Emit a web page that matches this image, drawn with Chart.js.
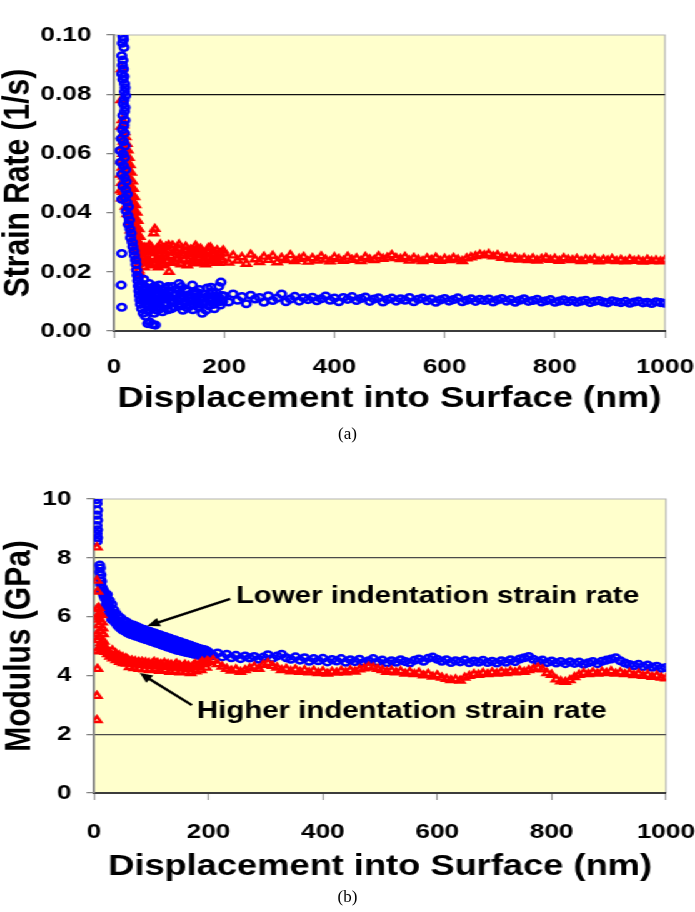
<!DOCTYPE html>
<html>
<head>
<meta charset="utf-8">
<script src="https://cdn.jsdelivr.net/npm/chart.js@4.4.1/dist/chart.umd.min.js"></script>
<style>
  html, body { margin: 0; padding: 0; background: #fff; }
  body { width: 695px; height: 912px; position: relative; overflow: hidden; }
  /* the source figure is a horizontally stretched Excel plot, so stretch the canvases the same way */
  #stretch { position: absolute; left: 0; top: 0; width: 556px; transform: scaleX(1.25); transform-origin: 0 0; }
  #stretch canvas { display: block; }
  .caption { position: absolute; left: 0; width: 695px; text-align: center; line-height: 20px;
             font-family: "Liberation Serif", "Times New Roman", serif; font-size: 17px; color: #000; }
</style>
</head>
<body>
<div id="stretch">
  <canvas id="strainChart" width="556" height="460"></canvas>
  <canvas id="modulusChart" width="556" height="452"></canvas>
</div>
<div class="caption" style="top:424px">(a)</div>
<div class="caption" style="top:887px">(b)</div>

<script>
// axis ticks
const depthTicks = [0, 200, 400, 600, 800, 1000];
const strainTicks = [0, 0.02, 0.04, 0.06, 0.08, 0.10];
const modulusTicks = [0, 2, 4, 6, 8, 10];
const strainGridAt = [0.08];
const modulusGridAt = [2, 8];

// displacement (nm) where the steady part of every curve is sampled
const depthGrid = [
  200, 208, 216, 224, 232, 240, 248, 256, 264, 272,
  280, 288, 296, 304, 312, 320, 328, 336, 344, 352,
  360, 368, 376, 384, 392, 400, 408, 416, 424, 432,
  440, 448, 456, 464, 472, 480, 488, 496, 504, 512,
  520, 528, 536, 544, 552, 560, 568, 576, 584, 592,
  600, 608, 616, 624, 632, 640, 648, 656, 664, 672,
  680, 688, 696, 704, 712, 720, 728, 736, 744, 752,
  760, 768, 776, 784, 792, 800, 808, 816, 824, 832,
  840, 848, 856, 864, 872, 880, 888, 896, 904, 912,
  920, 928, 936, 944, 952, 960, 968, 976, 984, 992, 1000
];

// (a) strain rate, 1/s -- lower rate test (blue circles)
const strainLowEarly = [
  [16, .0995], [17, .0985], [15, .0972], [18, .0958], [14, .0930], [16, .0915], [15, .0898], [17, .0885],
  [14, .0868], [18, .0860], [16, .0850], [19, .0835], [20, .0822], [19, .0808], [21, .0795], [18, .0780],
  [17, .0768], [20, .0755], [19, .0742], [16, .0728], [20, .0712], [18, .0695], [15, .0680], [19, .0668],
  [13, .0650], [17, .0640], [20, .0625], [11, .0610], [16, .0598], [19, .0585], [12, .0570], [17, .0558],
  [21, .0545], [14, .0530], [19, .0518], [22, .0505], [16, .0490], [21, .0478], [24, .0462], [14, .0445],
  [20, .0450], [23, .0435], [26, .0420], [22, .0405], [25, .0390], [28, .0375], [26, .0360], [29, .0345],
  [31, .0330], [30, .0315], [33, .0300], [34, .0285], [36, .0270], [37, .0255], [39, .0240], [40, .0225],
  [14, .0262], [13, .0155], [14, .0080],
  [41, .0205], [42, .0188], [43, .0170], [44, .0152], [45, .0135], [46, .0120], [47, .0105], [48, .0090],
  [49, .0160], [50, .0075], [51, .0140], [52, .0118], [53, .0060], [54, .0175], [55, .0098], [56, .0128],
  [57, .0050], [58, .0110], [59, .0145], [60, .0085], [61, .0025], [62, .0122], [63, .0068], [64, .0160],
  [65, .0030], [66, .0102], [67, .0135], [68, .0078], [69, .0115], [70, .0022], [71, .0148], [72, .0092],
  [73, .0060], [74, .0125], [75, .0020], [76, .0108], [77, .0140], [78, .0070], [79, .0118], [80, .0095],
  [82, .0155], [84, .0082], [86, .0130], [88, .0065], [90, .0112], [92, .0145], [94, .0088], [96, .0120],
  [98, .0072], [100, .0135], [103, .0098], [106, .0150], [109, .0080], [112, .0125], [115, .0105], [118, .0160],
  [121, .0085], [124, .0118], [127, .0095], [130, .0140], [133, .0078], [136, .0122], [139, .0102], [142, .0155],
  [145, .0088], [148, .0115], [151, .0130], [154, .0092], [157, .0108], [160, .0060], [163, .0125], [166, .0098],
  [169, .0145], [172, .0085], [175, .0112], [178, .0132], [181, .0090], [184, .0118], [187, .0104], [190, .0150],
  [193, .0088], [196, .0120],
  [44, .0180], [47, .0155], [50, .0128], [53, .0100], [56, .0150], [59, .0118], [62, .0090], [65, .0140],
  [68, .0108], [71, .0082], [74, .0152], [77, .0100], [80, .0128], [83, .0075], [86, .0105], [89, .0138],
  [92, .0095], [95, .0110], [98, .0150], [101, .0115], [104, .0075], [107, .0128], [110, .0100], [113, .0140],
  [116, .0090], [119, .0110], [122, .0150], [125, .0070], [128, .0112], [131, .0100], [134, .0135], [137, .0090],
  [140, .0112], [143, .0072], [146, .0130], [149, .0100], [152, .0082], [155, .0140], [158, .0110], [161, .0095],
  [164, .0112], [167, .0070], [170, .0118], [173, .0102], [176, .0148], [179, .0110], [182, .0075], [185, .0128],
  [188, .0097], [191, .0112], [194, .0165], [197, .0100]
];
const strainLowSteady = [
  .0118, .0098, .0125, .0104, .0116, .0092, .0121, .0108, .0113, .0097,
  .0119, .0103, .0111, .0125, .0099, .0108, .0117, .0101, .0112, .0106,
  .0114, .0102, .0109, .0118, .0104, .0111, .0099, .0113, .0107, .0116,
  .0103, .0110, .0115, .0100, .0108, .0112, .0098, .0106, .0111, .0101,
  .0109, .0104, .0113, .0099, .0107, .0111, .0102, .0108, .0097, .0105,
  .0110, .0101, .0106, .0112, .0099, .0104, .0109, .0100, .0107, .0103,
  .0108, .0098, .0105, .0110, .0101, .0106, .0097, .0104, .0109, .0100,
  .0103, .0107, .0098, .0102, .0106, .0097, .0101, .0105, .0099, .0103,
  .0097, .0101, .0104, .0096, .0100, .0103, .0098, .0095, .0102, .0099,
  .0096, .0100, .0094, .0098, .0101, .0095, .0097, .0093, .0099, .0096, .0094
];

// (a) strain rate, 1/s -- higher rate test (red triangles)
const strainHighEarly = [
  [14, .0885], [13, .0780], [15, .0712], [17, .0695], [13, .0690], [19, .0672], [15, .0660], [21, .0655],
  [17, .0640], [23, .0632], [14, .0620], [19, .0615], [25, .0610], [16, .0598], [22, .0592], [27, .0585],
  [13, .0575], [18, .0570], [24, .0566], [29, .0560], [15, .0552], [21, .0548], [27, .0540], [31, .0535],
  [12, .0528], [17, .0522], [23, .0518], [29, .0512], [33, .0505], [14, .0500], [20, .0495], [26, .0490],
  [31, .0485], [35, .0480], [12, .0475], [16, .0470], [22, .0468], [28, .0462], [34, .0458], [37, .0452],
  [14, .0448], [19, .0445], [25, .0440], [31, .0435], [36, .0430], [39, .0425], [21, .0420], [27, .0415],
  [33, .0410], [38, .0405], [41, .0400], [24, .0395], [30, .0390], [36, .0385], [40, .0378], [43, .0372],
  [27, .0368], [33, .0362], [39, .0356], [42, .0350], [45, .0344], [30, .0340], [36, .0335], [41, .0330],
  [44, .0324], [47, .0318], [34, .0312], [39, .0306], [43, .0300], [46, .0294], [49, .0288], [38, .0282],
  [42, .0276], [45, .0270], [48, .0264], [51, .0258], [41, .0250], [44, .0244], [47, .0238], [50, .0232],
  [45, .0205], [48, .0190], [42, .0218],
  [52, .0268], [54, .0245], [56, .0282], [58, .0228], [60, .0265], [62, .0240], [64, .0290],
  [66, .0222], [68, .0270], [70, .0250], [72, .0330], [74, .0345], [76, .0238], [78, .0278], [80, .0215],
  [82, .0262], [84, .0292], [86, .0240], [88, .0275], [90, .0225], [92, .0258], [94, .0285], [96, .0235],
  [98, .0268], [100, .0200], [103, .0252], [106, .0288], [109, .0232], [112, .0270], [115, .0245], [118, .0292],
  [121, .0228], [124, .0262], [127, .0240], [130, .0285], [133, .0222], [136, .0258], [139, .0275], [142, .0235],
  [145, .0268], [148, .0288], [151, .0230], [154, .0255], [157, .0278], [160, .0238], [163, .0262], [166, .0225],
  [169, .0270], [172, .0248], [175, .0282], [178, .0235], [181, .0258], [184, .0242], [187, .0272], [190, .0230],
  [193, .0262], [196, .0240],
  [51, .0250], [55, .0215], [59, .0275], [63, .0232], [67, .0285], [71, .0228], [75, .0268], [79, .0242],
  [83, .0280], [87, .0222], [91, .0270], [95, .0248], [99, .0290], [104, .0230], [108, .0265], [113, .0242],
  [117, .0278], [122, .0225], [126, .0255], [131, .0270], [135, .0238], [140, .0262], [144, .0228], [149, .0275],
  [153, .0245], [158, .0265], [162, .0232], [167, .0258], [171, .0280], [176, .0240], [180, .0268], [185, .0230],
  [189, .0262], [194, .0248], [198, .0272]
];
const strainHighSteady = [
  .0262, .0231, .0255, .0238, .0249, .0227, .0258, .0242, .0233, .0251,
  .0240, .0254, .0232, .0247, .0239, .0256, .0236, .0244, .0250, .0234,
  .0246, .0238, .0252, .0241, .0235, .0249, .0243, .0237, .0251, .0240,
  .0245, .0236, .0250, .0242, .0239, .0253, .0244, .0248, .0256, .0246,
  .0243, .0250, .0238, .0247, .0241, .0236, .0245, .0240, .0248, .0237,
  .0244, .0239, .0247, .0241, .0236, .0245, .0249, .0253, .0258, .0255,
  .0260, .0252, .0256, .0247, .0250, .0243, .0248, .0241, .0246, .0239,
  .0245, .0238, .0243, .0247, .0240, .0244, .0237, .0246, .0241, .0239,
  .0243, .0236, .0242, .0239, .0244, .0235, .0241, .0238, .0243, .0236,
  .0240, .0235, .0242, .0237, .0239, .0234, .0241, .0236, .0238, .0235, .0239
];

// (b) modulus, GPa -- lower rate test (blue circles)
const modulusLowEarly = [
  [5, 9.98], [5, 9.85], [6, 9.62], [5, 9.45], [6, 9.28], [5, 9.10], [6, 8.95], [5, 8.82], [6, 8.68], [5, 8.55],
  [10, 7.75], [11, 7.65], [10, 7.52], [12, 7.42], [11, 7.30], [13, 7.20], [12, 7.08], [14, 6.98], [13, 6.88],
  [15, 6.95], [16, 6.80], [17, 6.72], [18, 6.85], [19, 6.62], [20, 6.70], [22, 6.55], [24, 6.42], [23, 6.30],
  [26, 6.35], [28, 6.20], [27, 6.08], [30, 6.15], [32, 6.02], [31, 5.90], [34, 5.98], [36, 5.85], [38, 5.92],
  [40, 5.78], [42, 5.84], [44, 5.70], [46, 5.78], [48, 5.64], [50, 5.72], [53, 5.60], [56, 5.68], [59, 5.55],
  [62, 5.62], [65, 5.50], [68, 5.58], [71, 5.45], [74, 5.54], [77, 5.42], [80, 5.50], [83, 5.38], [86, 5.46],
  [89, 5.34], [92, 5.42], [95, 5.30], [98, 5.38], [101, 5.26], [104, 5.34], [107, 5.22], [110, 5.30], [113, 5.18],
  [116, 5.26], [119, 5.14], [122, 5.22], [125, 5.10], [128, 5.18], [131, 5.06], [134, 5.14], [137, 5.02],
  [140, 5.10], [143, 4.98], [146, 5.06], [149, 4.95], [152, 5.02], [155, 4.92], [158, 4.98], [161, 4.88],
  [164, 4.95], [167, 4.85], [170, 4.92], [173, 4.82], [176, 4.88], [179, 4.78], [182, 4.85], [185, 4.75],
  [188, 4.82], [191, 4.72], [194, 4.78], [197, 4.70],
  [21, 6.40], [25, 6.25], [29, 6.10], [33, 5.95], [37, 5.80], [41, 5.70], [45, 5.62], [49, 5.55], [54, 5.50],
  [58, 5.45], [63, 5.40], [67, 5.38], [72, 5.34], [76, 5.32], [81, 5.28], [85, 5.25], [90, 5.22], [94, 5.20],
  [99, 5.16], [103, 5.14], [108, 5.10], [112, 5.08], [117, 5.04], [121, 5.02], [126, 4.98], [130, 4.96],
  [135, 4.92], [139, 4.90], [144, 4.86], [148, 4.85], [153, 4.82], [157, 4.80], [162, 4.78], [166, 4.76],
  [171, 4.74], [175, 4.72], [180, 4.70], [184, 4.68], [189, 4.66], [193, 4.64], [198, 4.62],
  [23, 6.75], [27, 6.55], [31, 6.42], [35, 6.22], [39, 6.10], [43, 6.00], [47, 5.95], [52, 5.86], [57, 5.82],
  [61, 5.76], [66, 5.72], [70, 5.70], [75, 5.66], [79, 5.62], [84, 5.58], [88, 5.56], [93, 5.52], [97, 5.50],
  [102, 5.46], [106, 5.44], [111, 5.40], [115, 5.38], [120, 5.34], [124, 5.32], [129, 5.28], [133, 5.26],
  [138, 5.22], [142, 5.20], [147, 5.16], [151, 5.14], [156, 5.10], [160, 5.08], [165, 5.04], [169, 5.02],
  [174, 4.98], [178, 4.96], [183, 4.92], [187, 4.90], [192, 4.88], [196, 4.85]
];
const modulusLowSteady = [
  4.80, 4.68, 4.76, 4.63, 4.72, 4.60, 4.68, 4.57, 4.66, 4.59,
  4.64, 4.55, 4.62, 4.70, 4.58, 4.66, 4.72, 4.60, 4.55, 4.63,
  4.52, 4.60, 4.48, 4.57, 4.50, 4.58, 4.46, 4.54, 4.49, 4.57,
  4.45, 4.53, 4.47, 4.55, 4.44, 4.50, 4.57, 4.46, 4.52, 4.43,
  4.50, 4.45, 4.53, 4.47, 4.42, 4.51, 4.56, 4.48, 4.58, 4.62,
  4.55, 4.48, 4.53, 4.44, 4.50, 4.46, 4.52, 4.43, 4.49, 4.45,
  4.51, 4.44, 4.48, 4.42, 4.50, 4.45, 4.53, 4.47, 4.56, 4.60,
  4.64, 4.55, 4.48, 4.52, 4.44, 4.49, 4.42, 4.47, 4.40, 4.46,
  4.41, 4.45, 4.38, 4.43, 4.47, 4.40, 4.48, 4.52, 4.56, 4.60,
  4.50, 4.42, 4.37, 4.33, 4.38, 4.30, 4.35, 4.28, 4.31, 4.24, 4.27
];

// (b) modulus, GPa -- higher rate test (red triangles)
const modulusHighEarly = [
  [5, 8.35], [5, 7.22], [6, 6.85], [5, 6.25], [6, 5.98], [5, 5.40], [6, 5.20], [5, 4.82], [6, 4.22], [5, 3.30], [5, 2.48],
  [8, 6.30], [9, 6.10], [10, 5.90], [8, 5.70], [11, 5.50], [9, 5.30], [12, 5.10], [10, 4.95], [13, 6.05],
  [14, 5.80], [15, 5.60], [16, 5.40], [12, 4.85], [14, 5.00], [17, 5.15], [18, 5.00], [19, 4.90], [20, 4.80],
  [22, 4.85], [24, 4.72], [26, 4.78], [28, 4.64], [30, 4.70], [33, 4.58], [36, 4.64], [39, 4.52], [42, 4.58],
  [45, 4.46], [48, 4.54], [51, 4.42], [54, 4.48], [57, 4.40], [60, 4.52], [63, 4.42], [66, 4.50], [69, 4.40],
  [72, 4.48], [75, 4.38], [78, 4.46], [81, 4.36], [84, 4.46], [87, 4.36], [90, 4.44], [93, 4.34], [96, 4.42],
  [99, 4.32], [102, 4.40], [105, 4.46], [108, 4.34], [111, 4.42], [114, 4.30], [117, 4.38], [120, 4.32],
  [123, 4.42], [126, 4.32], [129, 4.38], [132, 4.28], [135, 4.36], [138, 4.26], [141, 4.34], [144, 4.40],
  [147, 4.28], [150, 4.34], [153, 4.24], [156, 4.30], [159, 4.36], [162, 4.26], [165, 4.32], [168, 4.22],
  [171, 4.28], [174, 4.34], [177, 4.38], [180, 4.28], [183, 4.34], [186, 4.40], [189, 4.46], [192, 4.38],
  [195, 4.42], [198, 4.48],
  [62, 4.28], [70, 4.25], [79, 4.22], [88, 4.20], [97, 4.18], [106, 4.22], [115, 4.15], [124, 4.18],
  [133, 4.12], [142, 4.15], [151, 4.10], [160, 4.12], [169, 4.08], [178, 4.14], [187, 4.18], [196, 4.26],
  [32, 4.85], [38, 4.75], [44, 4.68], [50, 4.62], [56, 4.58]
];
const modulusHighSteady = [
  4.46, 4.52, 4.38, 4.30, 4.22, 4.16, 4.20, 4.12, 4.18, 4.24,
  4.30, 4.22, 4.36, 4.42, 4.32, 4.26, 4.18, 4.22, 4.14, 4.20,
  4.12, 4.18, 4.10, 4.16, 4.08, 4.14, 4.06, 4.12, 4.09, 4.15,
  4.10, 4.17, 4.13, 4.20, 4.24, 4.30, 4.26, 4.22, 4.18, 4.12,
  4.16, 4.10, 4.14, 4.06, 4.12, 4.04, 4.09, 4.00, 4.05, 3.96,
  4.00, 3.92, 3.88, 3.84, 3.86, 3.82, 3.92, 3.98, 4.04, 4.02,
  4.08, 4.04, 4.10, 4.06, 4.12, 4.08, 4.14, 4.10, 4.16, 4.12,
  4.18, 4.22, 4.26, 4.20, 4.08, 4.02, 3.86, 3.80, 3.78, 3.84,
  3.94, 4.02, 4.08, 4.04, 4.10, 4.06, 4.12, 4.08, 4.14, 4.06,
  4.10, 4.04, 4.08, 4.01, 4.06, 3.98, 4.02, 3.95, 3.99, 3.92, 3.90
];

// arrow callouts on (b), anchored in data units
const modulusCallouts = [
  { text: 'Lower indentation strain rate', at: [248, 6.67], from: [238, 6.60], to: [93, 5.68] },
  { text: 'Higher indentation strain rate', at: [180, 2.76], from: [171, 2.99], to: [80, 4.08] }
];

Chart.defaults.font.family = '"Liberation Sans", Arial, Helvetica, sans-serif';
Chart.defaults.color = '#000';

function toPoints(early, xs, ys) {
  const pts = early.map(p => ({ x: p[0], y: p[1] }));
  xs.forEach((x, i) => pts.push({ x: x, y: ys[i] }));
  return pts;
}

// yellow plot area with a thin grey frame on top and right
const plotFrame = {
  id: 'plotFrame',
  beforeDraw(chart) {
    const { ctx, chartArea: a } = chart;
    ctx.save();
    ctx.fillStyle = '#ffffcc';
    ctx.fillRect(a.left, a.top, a.right - a.left, a.bottom - a.top);
    ctx.strokeStyle = '#b4b4b4';
    ctx.lineWidth = 1.2;
    ctx.beginPath();
    ctx.moveTo(a.left, a.top);
    ctx.lineTo(a.right, a.top);
    ctx.lineTo(a.right, a.bottom);
    ctx.stroke();
    ctx.restore();
  }
};

const callouts = {
  id: 'callouts',
  afterDraw(chart, args, opts) {
    if (!opts.items) return;
    const { ctx, scales: { x, y } } = chart;
    ctx.save();
    ctx.fillStyle = '#000';
    ctx.strokeStyle = '#000';
    ctx.lineWidth = 2.4;
    ctx.font = 'bold 23.5px "Liberation Sans", Arial, sans-serif';
    ctx.textBaseline = 'middle';
    ctx.textAlign = 'left';
    opts.items.forEach(c => {
      ctx.fillText(c.text, x.getPixelForValue(c.at[0]), y.getPixelForValue(c.at[1]));
      const x1 = x.getPixelForValue(c.from[0]), y1 = y.getPixelForValue(c.from[1]);
      const x2 = x.getPixelForValue(c.to[0]), y2 = y.getPixelForValue(c.to[1]);
      const ang = Math.atan2(y2 - y1, x2 - x1);
      const head = 11;
      ctx.beginPath();
      ctx.moveTo(x1, y1);
      ctx.lineTo(x2 - Math.cos(ang) * head * 0.7, y2 - Math.sin(ang) * head * 0.7);
      ctx.stroke();
      ctx.beginPath();
      ctx.moveTo(x2, y2);
      ctx.lineTo(x2 - head * Math.cos(ang - 0.42), y2 - head * Math.sin(ang - 0.42));
      ctx.lineTo(x2 - head * Math.cos(ang + 0.42), y2 - head * Math.sin(ang + 0.42));
      ctx.closePath();
      ctx.fill();
    });
    ctx.restore();
  }
};

function makeChart(canvasId, cfg) {
  const onGrid = v => cfg.gridAt.some(g => Math.abs(g - v) < 1e-9);
  return new Chart(document.getElementById(canvasId), {
    type: 'scatter',
    data: {
      datasets: [
        {
          label: 'Lower indentation strain rate',
          data: cfg.low,
          pointStyle: 'circle',
          pointRadius: 3.3,
          pointBorderWidth: 2.5,
          borderColor: '#0000ff',
          backgroundColor: 'rgba(0,0,0,0)',
          order: cfg.blueOnTop ? 0 : 1
        },
        {
          label: 'Higher indentation strain rate',
          data: cfg.high,
          pointStyle: 'triangle',
          pointRadius: 3.8,
          pointBorderWidth: 2.4,
          borderColor: '#ff0000',
          backgroundColor: 'rgba(0,0,0,0)',
          order: cfg.blueOnTop ? 1 : 0
        }
      ]
    },
    options: {
      responsive: false,
      animation: false,
      devicePixelRatio: 1,
      events: [],
      layout: { padding: cfg.padding },
      plugins: {
        legend: { display: false },
        tooltip: { enabled: false },
        callouts: { items: cfg.callouts }
      },
      scales: {
        x: {
          type: 'linear',
          min: 0,
          max: 1000,
          afterBuildTicks: s => { s.ticks = depthTicks.map(v => ({ value: v })); },
          afterFit: s => { s.height = cfg.xHeight; s.paddingLeft = 0; s.paddingRight = 0; },
          ticks: { font: { size: 21, weight: 'bold' }, padding: cfg.xTickPad, maxRotation: 0, callback: v => String(v) },
          grid: { drawOnChartArea: false, tickLength: 7, tickColor: '#9a9a9a', tickWidth: 1.2 },
          border: { color: '#3c3c3c', width: 2 },
          title: {
            display: true,
            text: 'Displacement into Surface (nm)',
            font: { size: 29, weight: 'bold' },
            padding: { top: 0, bottom: cfg.xTitlePad }
          }
        },
        y: {
          min: cfg.yMin,
          max: cfg.yMax,
          afterBuildTicks: s => { s.ticks = cfg.yTicks.map(v => ({ value: v })); },
          afterFit: s => { s.width = cfg.yWidth; s.paddingTop = 0; s.paddingBottom = 0; },
          ticks: { font: { size: 21, weight: 'bold' }, padding: 12, callback: cfg.fmt },
          grid: {
            color: c => (c.tick && onGrid(c.tick.value)) ? cfg.gridColor : 'rgba(0,0,0,0)',
            lineWidth: 1.3,
            tickLength: 6,
            tickColor: '#7a7a7a',
            tickWidth: 1.2
          },
          border: { color: '#8a8a8a', width: 2 },
          title: {
            display: true,
            text: cfg.yTitle,
            font: { size: 30, weight: 'bold', lineHeight: 1.0 },
            padding: { top: cfg.yTitlePad, bottom: 0 }
          }
        }
      }
    },
    plugins: [plotFrame, callouts]
  });
}

makeChart('strainChart', {
  low: toPoints(strainLowEarly, depthGrid, strainLowSteady),
  high: toPoints(strainHighEarly, depthGrid, strainHighSteady),
  blueOnTop: true,
  yMin: 0, yMax: 0.1,
  yTicks: strainTicks,
  gridAt: strainGridAt,
  gridColor: '#111',
  fmt: v => v.toFixed(2),
  yTitle: 'Strain Rate (1/s)',
  padding: { left: 0, top: 35, right: 24, bottom: 0 },
  yWidth: 91.2,
  xHeight: 129,
  xTickPad: 17,
  xTitlePad: 44,
  yTitlePad: 0
});

makeChart('modulusChart', {
  low: toPoints(modulusLowEarly, depthGrid, modulusLowSteady),
  high: toPoints(modulusHighEarly, depthGrid, modulusHighSteady),
  blueOnTop: false,
  yMin: 0, yMax: 10,
  yTicks: modulusTicks,
  gridAt: modulusGridAt,
  gridColor: '#4a4a4a',
  fmt: v => String(v),
  yTitle: 'Modulus (GPa)',
  padding: { left: 0, top: 39, right: 23.2, bottom: 0 },
  yWidth: 75.2,
  xHeight: 119,
  xTickPad: 20,
  xTitlePad: 28,
  yTitlePad: 1,
  callouts: modulusCallouts
});
</script>
</body>
</html>
